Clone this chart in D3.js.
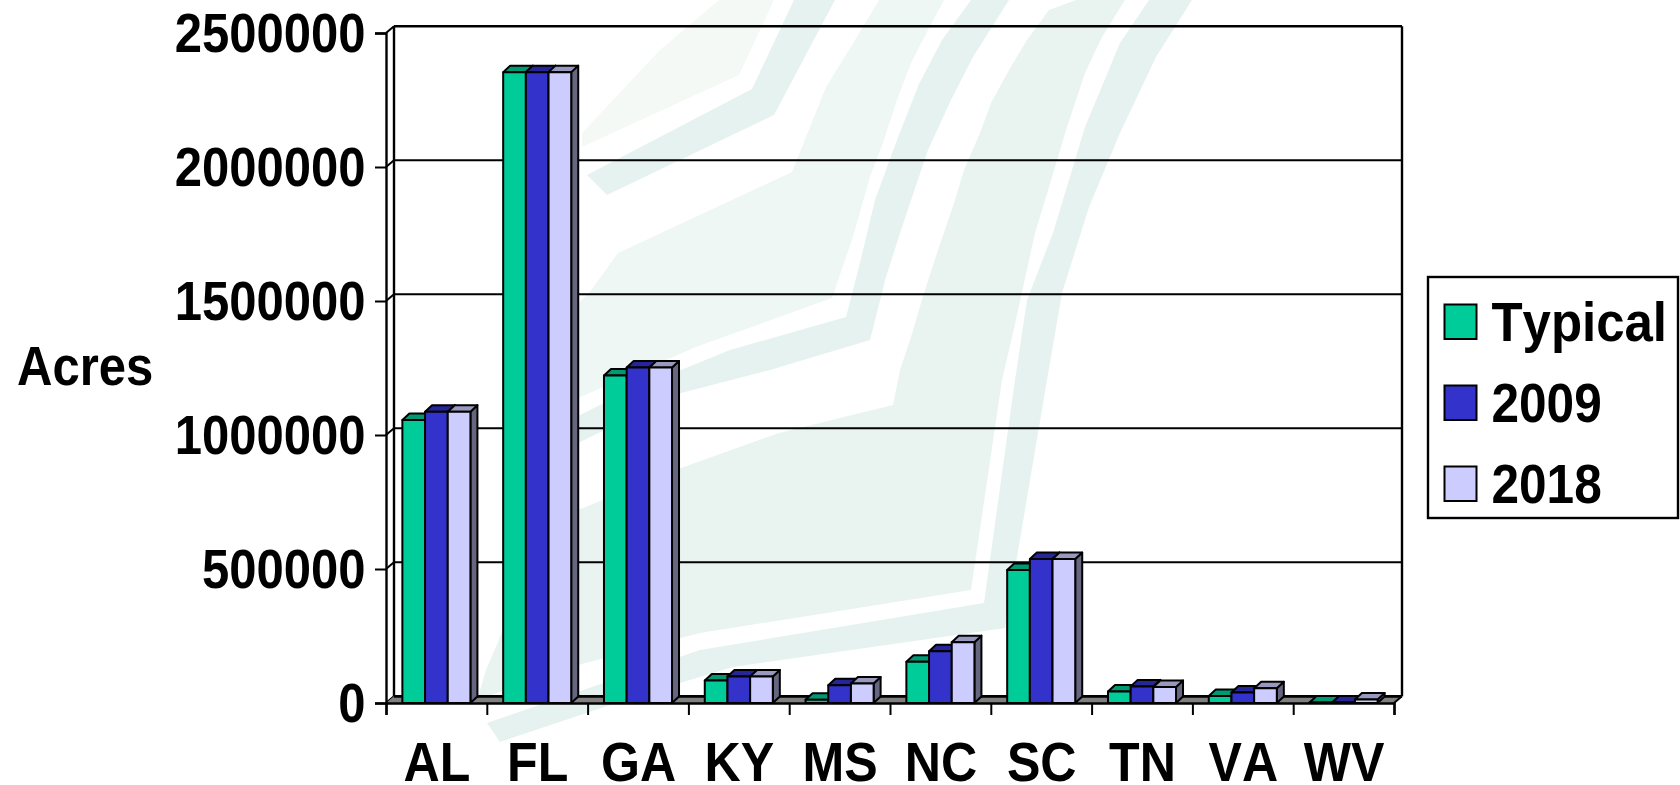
<!DOCTYPE html>
<html>
<head>
<meta charset="utf-8">
<title>Acres by state</title>
<script src="https://cdn.jsdelivr.net/npm/d3@7/dist/d3.min.js"></script>
<style>
  html, body { margin: 0; padding: 0; background: #fff; }
  svg { display: block; }
  text { font-family: "Liberation Sans", Arial, sans-serif; font-weight: 700; fill: #000; font-kerning: none; }
</style>
</head>
<body>
<svg id="chart" width="1680" height="785"></svg>
<script>
// Data
const states = ["AL", "FL", "GA", "KY", "MS", "NC", "SC", "TN", "VA", "WV"];
const seriesNames = ["Typical", "2009", "2018"];
const typical = [1056000, 2354000, 1222000, 84000, 12000, 154000, 496000, 43000, 26000, 2000];
const y2009 = [1087000, 2354000, 1252000, 99000, 66000, 193000, 537000, 62000, 39000, 2000];
const y2018 = [1087000, 2354000, 1252000, 99000, 73000, 227000, 537000, 60000, 55000, 13000];
const valueTicks = [0, 500000, 1000000, 1500000, 2000000, 2500000];

// Fill colours: front and top faces per series, and the shared side face
const fronts = ["#00cc99", "#3333cc", "#ccccff"];
const tops = ["#009973", "#262699", "#9999bf"];
const sideFill = "#666680";

// Faint chevron artwork sitting behind the plot
const backdrop = [
  { fill: "#f4f9f5", pts: [[582,147],[739,75],[774,0],[719,0],[660,50],[582,133]] },
  { fill: "#e6f2ef", pts: [[587,175],[752,89],[794,0],[835,0],[774,115],[607,195]] },
  { fill: "#eff7f4", pts: [[589,293],[618,253],[792,172],[826,87],[852,45],[879,0],[944,0],[928,30],[911,63],[897,100],[884,140],[870,177],[852,240],[832,298],[696,347],[578,398],[560,410],[560,320]] },
  { fill: "#e6f2ef", pts: [[846,317],[859,267],[875,200],[897,140],[919,84],[942,40],[971,0],[1009,0],[973,57],[951,100],[928,150],[902,227],[886,277],[870,340],[770,370],[681,393],[578,443],[560,455],[560,425],[620,395],[730,350]] },
  { fill: "#e9f4f0", pts: [[1076,0],[1125,0],[1102,37],[1085,73],[1067,127],[1049,187],[1035,233],[1024,283],[1013,333],[1002,380],[971,590],[700,633],[578,665],[477,700],[486,670],[520,590],[578,510],[681,468],[779,433],[893,405],[900,370],[911,337],[924,293],[937,253],[955,200],[964,170],[980,133],[991,103],[1009,70],[1027,40],[1049,10]] },
  { fill: "#e6f2ef", pts: [[1149,0],[1192,0],[1156,57],[1120,133],[1089,207],[1062,293],[1047,380],[1005,628],[733,667],[640,695],[500,742],[487,723],[700,650],[984,603],[1015,380],[1027,300],[1053,233],[1085,127],[1120,43]] }
];

// Front plane of the plot and the oblique depth of the box
const left = 386, right = 1394, baseY = 703, topY = 33;
const depthX = 8, depthY = -6.7;
const barDepthX = 7, barDepthY = -6.5;
const ink = "#000";

const svg = d3.select("#chart");
const valueToY = d3.scaleLinear().domain([0, 2500000]).range([baseY, topY]);
const stateBand = d3.scaleBand().domain(states).range([left, right])
  .paddingInner(0.325).paddingOuter(0.1625);
const seriesBand = d3.scaleBand().domain(seriesNames).range([0, stateBand.bandwidth()]);
const tickEdge = d3.scaleLinear().domain([0, states.length]).range([left, right]);
const polyline = d3.line();

// Backdrop
svg.append("g").selectAll("path").data(backdrop).join("path")
  .attr("d", d => polyline(d.pts) + "Z")
  .attr("fill", d => d.fill);

// Back wall, gridlines and the diagonal joins across the side wall
const walls = svg.append("g").attr("fill", "none").attr("stroke", ink);
walls.selectAll("line.grid").data(valueTicks.filter(v => v > 0)).join("line")
  .attr("class", "grid")
  .attr("x1", left + depthX).attr("x2", right + depthX)
  .attr("y1", v => valueToY(v) + depthY).attr("y2", v => valueToY(v) + depthY)
  .attr("stroke-width", v => v === 2500000 ? 2.6 : 2);
walls.selectAll("line.join").data(valueTicks).join("line")
  .attr("class", "join")
  .attr("x1", left).attr("x2", left + depthX)
  .attr("y1", v => valueToY(v)).attr("y2", v => valueToY(v) + depthY)
  .attr("stroke-width", 2);
walls.append("line")
  .attr("x1", left + depthX).attr("x2", left + depthX)
  .attr("y1", valueToY(2500000) + depthY).attr("y2", baseY + depthY)
  .attr("stroke-width", 2.4);
walls.append("line")
  .attr("x1", right + depthX).attr("x2", right + depthX)
  .attr("y1", valueToY(2500000) + depthY).attr("y2", baseY + depthY)
  .attr("stroke-width", 2.4);

// Floor
svg.append("path")
  .attr("d", polyline([[left, baseY], [left + depthX, baseY + depthY], [right + depthX, baseY + depthY], [right, baseY]]) + "Z")
  .attr("fill", "#808080").attr("stroke", "none");
svg.append("line")
  .attr("x1", left + depthX).attr("x2", right + depthX)
  .attr("y1", baseY + depthY).attr("y2", baseY + depthY)
  .attr("stroke", ink).attr("stroke-width", 2.8);
svg.append("line")
  .attr("x1", right).attr("x2", right + depthX)
  .attr("y1", baseY).attr("y2", baseY + depthY)
  .attr("stroke", ink).attr("stroke-width", 2);

// Bars, drawn left to right so each front face covers the side of the one before
const columns = [typical, y2009, y2018];
const barGroups = svg.append("g").attr("stroke", ink).attr("stroke-width", 2).attr("stroke-linejoin", "round")
  .selectAll("g").data(states).join("g");
barGroups.each(function (state, si) {
  const g = d3.select(this);
  seriesNames.forEach((name, k) => {
    const x0 = stateBand(state) + seriesBand(name);
    const x1 = x0 + seriesBand.bandwidth();
    const yt = valueToY(columns[k][si]);
    g.append("path")
      .attr("d", polyline([[x1, yt], [x1 + barDepthX, yt + barDepthY], [x1 + barDepthX, baseY + barDepthY], [x1, baseY]]) + "Z")
      .attr("fill", sideFill);
    g.append("path")
      .attr("d", polyline([[x0, yt], [x0 + barDepthX, yt + barDepthY], [x1 + barDepthX, yt + barDepthY], [x1, yt]]) + "Z")
      .attr("fill", tops[k]);
    g.append("rect")
      .attr("x", x0).attr("y", yt)
      .attr("width", x1 - x0).attr("height", baseY - yt)
      .attr("fill", fronts[k]);
  });
});

// Value axis on the front edge of the side wall
const textScale = 0.875;
const yAxis = svg.append("g")
  .attr("transform", `translate(${left},0)`)
  .call(d3.axisLeft(valueToY).tickValues(valueTicks).tickFormat(d3.format("d")).tickSize(11));
yAxis.select(".domain").attr("stroke", ink).attr("stroke-width", 2.4);
yAxis.selectAll(".tick line").attr("stroke", ink).attr("stroke-width", 2);
yAxis.selectAll(".tick text")
  .attr("x", null).attr("dy", null)
  .attr("font-size", 56).attr("text-anchor", "end")
  .attr("transform", `translate(-20.5,18.7) scale(${textScale},1)`)
  .attr("fill", "#000");

// Category axis: tick marks fall between states, labels sit at their centres
const edgeAxis = svg.append("g")
  .attr("transform", `translate(0,${baseY})`)
  .call(d3.axisBottom(tickEdge).ticks(states.length).tickFormat("").tickSize(12));
edgeAxis.select(".domain").attr("stroke", ink).attr("stroke-width", 2.4);
edgeAxis.selectAll(".tick line").attr("stroke", ink).attr("stroke-width", 2);

const labelAxis = svg.append("g")
  .attr("transform", `translate(0,${baseY})`)
  .call(d3.axisBottom(stateBand).tickSize(0));
labelAxis.select(".domain").remove();
labelAxis.selectAll(".tick text")
  .attr("y", null).attr("dy", null)
  .attr("font-size", 56).attr("text-anchor", "middle")
  .attr("transform", "translate(0.5,78) scale(0.895,1)")
  .attr("fill", "#000");

// Axis title
svg.append("text")
  .attr("transform", `translate(17,385) scale(${textScale},1)`)
  .attr("font-size", 56)
  .text("Acres");

// Legend
const legend = svg.append("g");
legend.append("rect")
  .attr("x", 1428).attr("y", 277).attr("width", 250).attr("height", 241)
  .attr("fill", "#fff").attr("stroke", ink).attr("stroke-width", 2.4);
const legendY = d3.scalePoint().domain(seriesNames).range([304.5, 466.5]);
const legendRows = legend.selectAll("g").data(seriesNames).join("g")
  .attr("transform", d => `translate(1444.5,${legendY(d)})`);
legendRows.append("rect")
  .attr("width", 32).attr("height", 34.5)
  .attr("fill", (d, i) => fronts[i])
  .attr("stroke", ink).attr("stroke-width", 2);
legendRows.append("text")
  .attr("transform", (d, i) => `translate(47,36.5) scale(${i === 0 ? 0.91 : 0.885},1)`)
  .attr("font-size", 56)
  .text(d => d);
</script>
</body>
</html>
